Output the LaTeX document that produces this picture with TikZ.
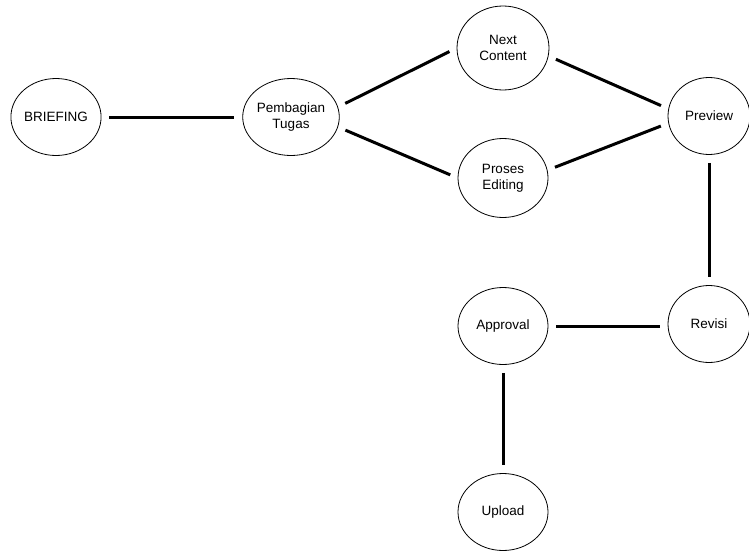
\documentclass[tikz,border=0pt]{standalone}
\usepackage{fontspec}
\setmainfont{Liberation Sans}
\usetikzlibrary{shapes.geometric}
\begin{document}
\begin{tikzpicture}[x=1pt,y=-1pt,stage/.style={shape=ellipse,draw=black,line width=0.8pt,minimum width=88pt,minimum height=77pt,inner sep=0pt,align=center,font=\fontsize{13.5}{16}\selectfont},link/.style={line width=3pt,shorten <=8pt,shorten >=8pt}]
\useasboundingbox (0,0) rectangle (749,551);
\def\xa{56};
\def\xb{291};
\def\xc{503};
\def\xd{709};

\node[stage] (brief) at (\xa,117) {BRIEFING};
\node[stage] (bagi) at (\xb,117) {Pembagian\\Tugas};
\node[stage,minimum width=92pt,minimum height=84pt] (next) at (\xc,48) {Next\\Content};
\node[stage,minimum width=90pt,minimum height=79pt] (edit) at (\xc,178) {Proses\\Editing};
\node[stage,minimum width=82pt] (prev) at (\xd,116) {Preview};
\node[stage,minimum width=82pt] (rev) at (\xd,324) {Revisi};
\node[stage,minimum width=90pt] (appr) at (\xc,326) {Approval};
\node[stage,minimum width=90pt] (upl) at (\xc,512) {Upload};

\draw[link] (brief.east) -- (bagi.west);
\draw[link] (bagi.12) -- (next.west);
\draw[link] (bagi.-12) -- (edit.west);
\draw[link] (next.-10) -- (prev.170);
\draw[link] (edit.10) -- (prev.190);
\draw[link] (prev.south) -- (rev.north);
%REVISI BACK
\draw[link] (appr.east) -- (appr.east -| rev.west);
\draw[link] (appr.south) -- (upl.north);
\end{tikzpicture}
\end{document}
